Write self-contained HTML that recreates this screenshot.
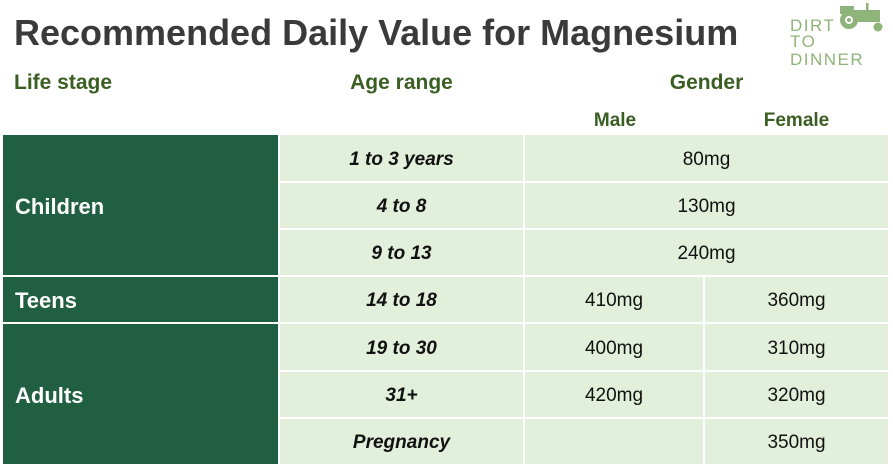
<!DOCTYPE html>
<html><head><meta charset="utf-8"><style>
body{margin:0;width:893px;height:469px;background:#fff;position:relative;overflow:hidden;font-family:"Liberation Sans",sans-serif}
.a{position:absolute;box-sizing:border-box;display:flex;align-items:center;justify-content:center}
.d{background:#215f42;color:#fff;font-weight:bold;font-size:22px;justify-content:flex-start;padding-left:12px}
.l{background:#e2efda;color:#111;font-size:19px;padding-top:3px}
.i{font-style:italic;font-weight:bold}
.h{color:#3b5e22;font-weight:bold}
</style></head><body>
<div class="a" style="left:14px;top:12px;font-size:36px;font-weight:bold;color:#3a3a3a;justify-content:flex-start">Recommended Daily Value for Magnesium</div>
<div style="position:absolute;left:786px;top:0px;width:105px;height:52px;color:#8fb47a;font-size:17px;line-height:18px;letter-spacing:1.5px">
<svg style="position:absolute;left:48px;top:2px" width="56" height="30" viewBox="0 0 56 30"><rect x="12" y="8" width="34" height="12" fill="#8fb47a"/><rect x="6" y="4" width="14" height="8" fill="#8fb47a"/><circle cx="15" cy="18" r="9" fill="#8fb47a"/><circle cx="15" cy="18" r="4" fill="#fff"/><circle cx="15" cy="18" r="2" fill="#8fb47a"/><circle cx="44" cy="25" r="4.5" fill="#8fb47a"/><rect x="32" y="1" width="2.5" height="8" fill="#8fb47a"/></svg>
<div style="position:absolute;left:4px;top:17px">DIRT</div><div style="position:absolute;left:4px;top:33px">TO DINNER</div></div>
<div class="a h" style="left:14px;top:70px;height:26px;font-size:21px">Life stage</div>
<div class="a h" style="left:280px;width:243px;top:70px;height:26px;font-size:21px">Age range</div>
<div class="a h" style="left:525px;width:363px;top:70px;height:26px;font-size:21px">Gender</div>
<div class="a h" style="left:525px;width:180px;top:109px;height:24px;font-size:19px">Male</div>
<div class="a h" style="left:705px;width:183px;top:109px;height:24px;font-size:19px">Female</div>
<div class="a d" style="left:3px;top:135px;width:275px;height:140px;padding-top:4px">Children</div>
<div class="a d" style="left:3px;top:277px;width:275px;height:45px;padding-top:3px">Teens</div>
<div class="a d" style="left:3px;top:324px;width:275px;height:140px;padding-top:4px">Adults</div>
<div class="a l i" style="left:280px;top:135px;width:243px;height:46px">1 to 3 years</div>
<div class="a l" style="left:525px;top:135px;width:363px;height:46px">80mg</div>
<div class="a l i" style="left:280px;top:183px;width:243px;height:45px">4 to 8</div>
<div class="a l" style="left:525px;top:183px;width:363px;height:45px">130mg</div>
<div class="a l i" style="left:280px;top:230px;width:243px;height:45px">9 to 13</div>
<div class="a l" style="left:525px;top:230px;width:363px;height:45px">240mg</div>
<div class="a l i" style="left:280px;top:277px;width:243px;height:45px">14 to 18</div>
<div class="a l" style="left:525px;top:277px;width:178px;height:45px">410mg</div>
<div class="a l" style="left:705px;top:277px;width:183px;height:45px">360mg</div>
<div class="a l i" style="left:280px;top:324px;width:243px;height:46px">19 to 30</div>
<div class="a l" style="left:525px;top:324px;width:178px;height:46px">400mg</div>
<div class="a l" style="left:705px;top:324px;width:183px;height:46px">310mg</div>
<div class="a l i" style="left:280px;top:372px;width:243px;height:45px">31+</div>
<div class="a l" style="left:525px;top:372px;width:178px;height:45px">420mg</div>
<div class="a l" style="left:705px;top:372px;width:183px;height:45px">320mg</div>
<div class="a l i" style="left:280px;top:419px;width:243px;height:45px">Pregnancy</div>
<div class="a l" style="left:525px;top:419px;width:178px;height:45px"></div>
<div class="a l" style="left:705px;top:419px;width:183px;height:45px">350mg</div>
</body></html>
